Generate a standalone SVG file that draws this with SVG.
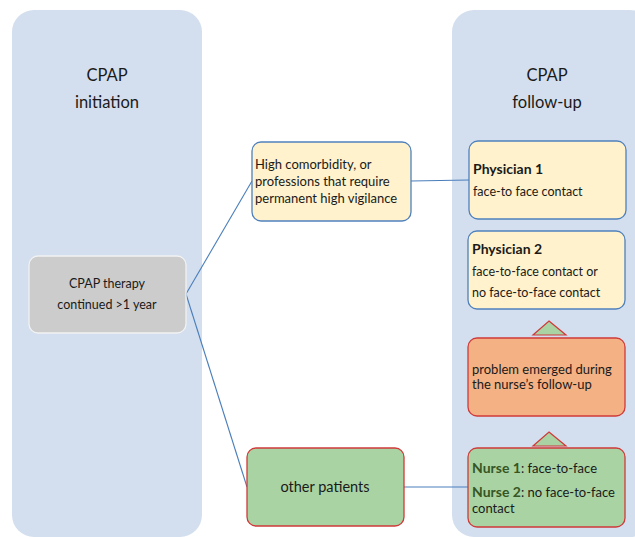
<svg xmlns="http://www.w3.org/2000/svg" width="635" height="537" viewBox="0 0 635 537">
<style>
text{font-family:Lato,"Open Sans","Liberation Sans",sans-serif;fill:#1a1a1a}
.panel{fill:#d3dfee}
.yel{fill:#fff2cc;stroke:#4f81bd;stroke-width:1.3}
.grn{fill:#a9d3a3;stroke:#d03a3a;stroke-width:1.3}
.org{fill:#f4b183;stroke:#d03a3a;stroke-width:1.3}
.gry{fill:#cccccc;stroke:#f2f2f2;stroke-width:1.3}
.tri{fill:#a9d3a3;stroke:#d03a3a;stroke-width:1.2}
.con{stroke:#4a7ebb;stroke-width:1.1;fill:none}
.t13{font-size:13px}
.t12{font-size:12.5px}
.t16{font-size:16.5px}
.b{font-weight:bold;font-size:14px}
.nb{font-weight:bold;fill:#375623;font-size:14px}
</style>
<g id="panel-initiation">
<rect class="panel" x="12" y="10" width="190" height="527" rx="22"/>
<text class="t16" x="107" y="81" text-anchor="middle">CPAP</text>
<text class="t16" x="107" y="108" text-anchor="middle">initiation</text>
</g>
<g id="panel-followup">
<rect class="panel" x="452" y="10" width="200" height="527" rx="22"/>
<text class="t16" x="547" y="81" text-anchor="middle">CPAP</text>
<text class="t16" x="547" y="108" text-anchor="middle">follow-up</text>
</g>
<g id="connectors">
<line class="con" x1="186" y1="294" x2="252" y2="181"/>
<line class="con" x1="186" y1="294" x2="247" y2="487"/>
<line class="con" x1="411" y1="181" x2="469" y2="180"/>
<line class="con" x1="404" y1="487" x2="468" y2="487"/>
</g>
<g id="therapy">
<rect class="gry" x="29" y="256" width="157" height="77" rx="9"/>
<text class="t12" x="107" y="288" text-anchor="middle">CPAP therapy</text>
<text class="t12" x="107" y="309" text-anchor="middle">continued &gt;1 year</text>
</g>
<g id="high-comorbidity">
<rect class="yel" x="252" y="142" width="159" height="79" rx="9"/>
<text class="t13" x="255" y="169">High comorbidity, or</text>
<text class="t13" x="255" y="186">professions that require</text>
<text class="t13" x="255" y="203">permanent high vigilance</text>
</g>
<g id="physician1">
<rect class="yel" x="469" y="141" width="157" height="78" rx="9"/>
<text class="b" x="473" y="174">Physician 1</text>
<text class="t12" x="473" y="196">face-to face contact</text>
</g>
<g id="physician2">
<rect class="yel" x="468" y="231" width="157" height="78" rx="9"/>
<text class="b" x="472" y="254">Physician 2</text>
<text class="t12" x="472" y="276">face-to-face contact or</text>
<text class="t12" x="472" y="297">no face-to-face contact</text>
</g>
<g id="triangle1">
<polygon class="tri" points="549,321 566,335 533,335"/>
</g>
<g id="problem">
<rect class="org" x="468" y="338" width="157" height="78" rx="9"/>
<text class="t13" x="472" y="374">problem emerged during</text>
<text class="t13" x="472" y="389">the nurse’s follow-up</text>
</g>
<g id="triangle2">
<polygon class="tri" points="549,432 566,446 533,446"/>
</g>
<g id="nurse">
<rect class="grn" x="468" y="448" width="157" height="79" rx="9"/>
<text class="t13" x="472" y="473"><tspan class="nb">Nurse 1</tspan>: face-to-face</text>
<text class="t13" x="472" y="497"><tspan class="nb">Nurse 2</tspan>: no face-to-face</text>
<text class="t13" x="472" y="513">contact</text>
</g>
<g id="other-patients">
<rect class="grn" x="247" y="448" width="157" height="78" rx="9"/>
<text x="325" y="492" text-anchor="middle" font-size="14.5">other patients</text>
</g>
</svg>
